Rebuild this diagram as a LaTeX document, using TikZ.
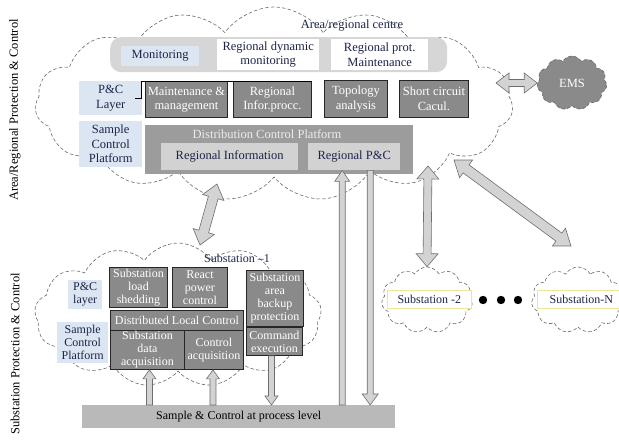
\documentclass[tikz,border=0pt]{standalone}
\usepackage{fontspec}
\setmainfont{Liberation Serif}
\usetikzlibrary{shapes.symbols,calc}

\definecolor{paleblue}{HTML}{DCE6F2}
\definecolor{bargray}{HTML}{D6D6D6}
\definecolor{boxgray}{HTML}{8A8A8A}
\definecolor{platgray}{HTML}{9C9C9C}
\definecolor{innergray}{HTML}{D2D2D2}
\definecolor{procgray}{HTML}{B9B9B9}
\definecolor{arrowfill}{HTML}{D3D3D3}
\definecolor{arrowline}{HTML}{6E6E6E}
\definecolor{cloudline}{HTML}{6A6A6A}
\definecolor{inkblue}{HTML}{1E2448}
\definecolor{labelyellow}{HTML}{EDE59A}

% double-headed block arrow: from, to, shaft half-width, head half-width, head length
\newcommand\dblarrow[5]{%
  \path (#1) coordinate (ba-a) (#2) coordinate (ba-b);
  \path ($(ba-a)!#5!(ba-b)$) coordinate (ba-a1) ($(ba-b)!#5!(ba-a)$) coordinate (ba-b1);
  \filldraw[blockarrow] (ba-a) -- ($(ba-a1)!#4!90:(ba-b)$) -- ($(ba-a1)!#3!90:(ba-b)$)
    -- ($(ba-b1)!#3!-90:(ba-a)$) -- ($(ba-b1)!#4!-90:(ba-a)$) -- (ba-b)
    -- ($(ba-b1)!#4!90:(ba-a)$) -- ($(ba-b1)!#3!90:(ba-a)$)
    -- ($(ba-a1)!#3!-90:(ba-b)$) -- ($(ba-a1)!#4!-90:(ba-b)$) -- cycle;}
% single-headed block arrow, head at the second point
\newcommand\sglarrow[5]{%
  \path (#1) coordinate (ba-a) (#2) coordinate (ba-b);
  \path ($(ba-b)!#5!(ba-a)$) coordinate (ba-b1);
  \filldraw[blockarrow] ($(ba-a)!#3!90:(ba-b)$)
    -- ($(ba-b1)!#3!-90:(ba-a)$) -- ($(ba-b1)!#4!-90:(ba-a)$) -- (ba-b)
    -- ($(ba-b1)!#4!90:(ba-a)$) -- ($(ba-b1)!#3!90:(ba-a)$)
    -- ($(ba-a)!#3!-90:(ba-b)$) -- cycle;}

\tikzset{
  bigtext/.style={font=\fontsize{12.5}{14.5}\selectfont},
  smalltext/.style={font=\fontsize{12}{13}\selectfont},
  sz/.style 2 args={minimum width=#1pt, minimum height=#2pt},
  cell/.style={anchor=north west, inner sep=0pt, align=center, text=inkblue},
  darkbox/.style={cell, fill=boxgray, draw=black!85, line width=0.9pt, text=white},
  lightbox/.style={cell, fill=paleblue},
  whitebox/.style={cell, fill=white},
  innerbox/.style={cell, fill=innergray},
  cloudy/.style={cloud, cloud ignores aspect, draw=cloudline, dashed,
    dash pattern=on 3.5pt off 2.2pt, line width=0.6pt, inner sep=0pt},
  blockarrow/.style={fill=arrowfill, draw=arrowline, line width=0.6pt, line join=miter},
}

\begin{document}
\begin{tikzpicture}[x=1pt,y=-1pt]
\useasboundingbox (0,0) rectangle (619,446);

% side captions
\node[rotate=90, bigtext, text=black] (captop) at (15,110) {Area/Regional Protection \& Control};
\node[rotate=90, bigtext, text=black] (capbot) at (15,354) {Substation Protection \& Control};

% clouds
\node[cloudy, cloud puffs=15, cloud puff arc=110, sz={478}{194}] (centre) at (274,104) {};
\node[cloudy, cloud puffs=13, cloud puff arc=110, sz={287}{144}] (sub1) at (178,315) {};
\node[cloudy, cloud puffs=11, cloud puff arc=120, sz={91}{66}] (sub2) at (427,300) {};
\node[cloudy, cloud puffs=11, cloud puff arc=120, sz={93}{66}] (subn) at (578,300) {};
\node[cloudy, cloud puffs=11, cloud puff arc=120, sz={70}{54}, fill=boxgray,
      text=white, bigtext] (ems) at (572,83) {EMS};

% area/regional centre
\node[bigtext, text=inkblue] (centretitle) at (352,26) {Area/regional centre};
\node[anchor=north west, fill=bargray, rounded corners=11pt, sz={337}{35}, inner sep=0pt] (bar) at (110,37) {};
\node[lightbox, bigtext, sz={78}{20}] (mon) at (121,46) {Monitoring};
\node[whitebox, bigtext, sz={102}{31}] (rdm) at (217,39) {Regional dynamic\\monitoring};
\node[whitebox, bigtext, sz={97}{31}] (rpm) at (331,39) {Regional prot.\\Maintenance};

\node[lightbox, bigtext, sz={63}{34}] (pcl) at (79,81) {P\&C\\Layer};
\node[lightbox, bigtext, sz={63}{46}] (scp) at (79,121) {Sample\\Control\\Platform};

\node[darkbox, bigtext, sz={82}{36}] (mm) at (145,81) {Maintenance \&\\management};
\node[darkbox, bigtext, sz={78}{36}] (rip) at (233,81) {Regional\\Infor.procc.};
\node[darkbox, bigtext, sz={63}{37}] (ta) at (324,80) {Topology\\analysis};
\node[darkbox, bigtext, sz={69}{37}] (sc) at (399,80) {Short circuit\\Cacul.};
\draw[line width=0.9pt] ($(pcl.east)+(-7,0)$) -- ++(6,0) |- (rip.north east);

\node[cell, fill=platgray, sz={268}{49}] (dcp) at (145,125) {};
\node[bigtext, text=white!93!black] (dcptitle) at (267,134) {Distribution Control Platform};
\node[innerbox, bigtext, sz={137}{27}] (ri) at (161,143) {Regional Information};
\node[innerbox, bigtext, sz={92}{27}] (rpc) at (308,143) {Regional P\&C};

% substation 1
\node[smalltext, text=inkblue] (sub1title) at (237,258) {Substation –1};
\node[lightbox, smalltext, sz={34}{29}] (pcl2) at (68,280) {P\&C\\layer};
\node[lightbox, smalltext, sz={51}{41}] (scp2) at (57,322) {Sample\\Control\\Platform};
\node[darkbox, smalltext, sz={58}{40}] (sls) at (109,267) {Substation\\load\\shedding};
\node[darkbox, smalltext, sz={55}{40}] (rpc2) at (172,267) {React\\power\\control};
\node[darkbox, smalltext, sz={57}{56}] (sabp) at (246,270) {Substation\\area\\backup\\protection};
\node[darkbox, smalltext, sz={133}{20}] (dlc) at (110,310) {Distributed Local Control};
\node[darkbox, smalltext, sz={74}{39}] (sda) at (110,330) {Substation\\data\\acquisition};
\node[darkbox, smalltext, sz={59}{39}] (ca) at (184,330) {Control\\acquisition};
\node[darkbox, smalltext, sz={56}{28}] (ce) at (246,327) {Command\\execution};

\node[cell, fill=procgray, smalltext, text=black, sz={313}{23}] (pl) at (82,405) {Sample \& Control at process level};

% other substations
\node[cell, fill=white, draw=labelyellow, line width=0.8pt, smalltext, sz={84}{18}] (sub2lbl) at (387,290) {Substation -2};
\node[cell, fill=white, draw=labelyellow, line width=0.8pt, smalltext, sz={88}{18}] (subnlbl) at (537,290) {Substation-N};
\foreach \dx/\nm in {483/dotA,501/dotB,518/dotC}
  \fill (\dx,300) circle[radius=4.2pt] coordinate (\nm);

% block arrows
\coordinate (emsgate) at (496,83);
\dblarrow{emsgate}{ems.west}{3.5pt}{10pt}{13pt}

\coordinate (sub1gate) at (200,245);
\coordinate (dcpgate) at (217,184);
\dblarrow{sub1gate}{dcpgate}{5pt}{11pt}{14pt}

\coordinate (rpcup) at ($(rpc.south)+(-12,0)$);
\coordinate (rpcdown) at ($(rpc.south)+(16,0)$);
\sglarrow{pl.north -| rpcup}{rpcup}{3pt}{7.5pt}{11pt}
\sglarrow{rpcdown}{pl.north -| rpcdown}{3pt}{8pt}{11pt}

\coordinate (centregate) at (428,166);
\dblarrow{centregate}{sub2.north}{4pt}{11pt}{13pt}

\coordinate (diagtop) at (454,160);
\coordinate (diagbot) at (571,246);
\dblarrow{diagtop}{diagbot}{5pt}{11pt}{15pt}

\coordinate (sdaup) at ($(sda.south)+(2,0)$);
\coordinate (caup) at ($(ca.south)+(-1,0)$);
\coordinate (cedown) at ($(ce.south)+(-3,0)$);
\sglarrow{pl.north -| sdaup}{sdaup}{3pt}{6.5pt}{9pt}
\sglarrow{pl.north -| caup}{caup}{3pt}{6.5pt}{9pt}
\sglarrow{cedown}{pl.north -| cedown}{3pt}{6.5pt}{9pt}
\end{tikzpicture}
\end{document}
